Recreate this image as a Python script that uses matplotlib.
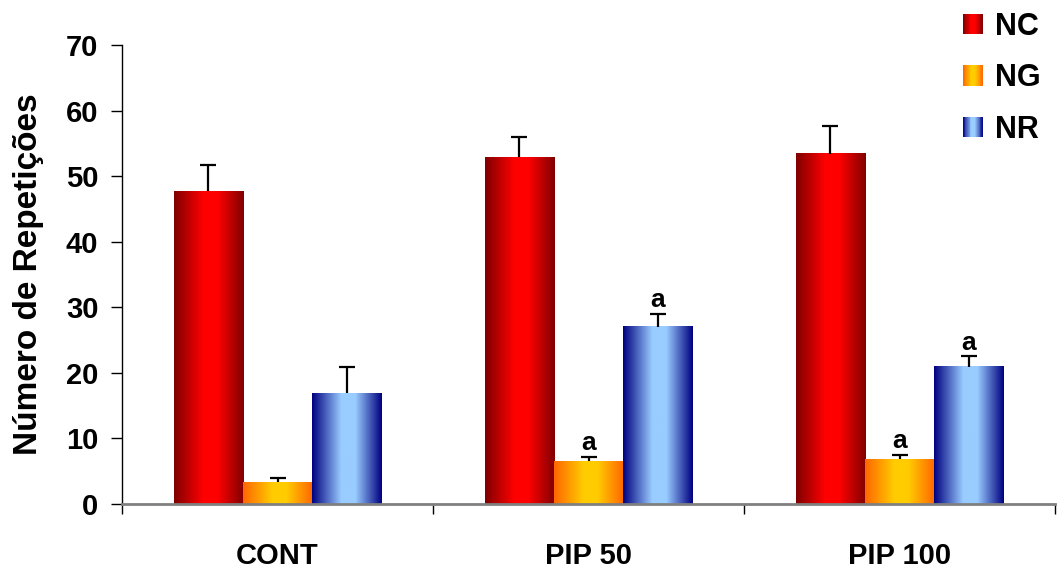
import matplotlib
matplotlib.use('Agg')
import matplotlib.pyplot as plt
import numpy as np
from matplotlib.colors import LinearSegmentedColormap
from matplotlib.legend_handler import HandlerBase
from matplotlib.patches import Rectangle

plt.rcParams['font.family'] = ['Liberation Sans', 'DejaVu Sans']
plt.rcParams['font.weight'] = 'bold'

groups = ['CONT', 'PIP 50', 'PIP 100']
series = ['NC', 'NG', 'NR']

nc_mean = [47.7, 52.9, 53.4]
nc_err = [4.0, 3.0, 4.2]
ng_mean = [3.3, 6.5, 6.8]
ng_err = [0.6, 0.7, 0.7]
nr_mean = [16.9, 27.0, 20.9]
nr_err = [4.0, 2.0, 1.6]

# significance letters over each bar ('' = none)
nc_sig = ['', '', '']
ng_sig = ['', 'a', 'a']
nr_sig = ['', 'a', 'a']

means = [nc_mean, ng_mean, nr_mean]
errs = [nc_err, ng_err, nr_err]
sigs = [nc_sig, ng_sig, nr_sig]

# edge colour / centre colour of the cylinder-like shading
shades = [('#800000', '#FF0000'),
          ('#FF6600', '#FFCC00'),
          ('#000080', '#99CCFF')]


def shade_cmap(edge, mid):
    return LinearSegmentedColormap.from_list(
        '', [(0.0, edge), (0.42, mid), (0.62, mid), (1.0, edge)])


cmaps = [shade_cmap(e, m) for e, m in shades]


class GradientHandler(HandlerBase):
    def __init__(self, cmap, steps=24):
        super().__init__()
        self.cmap = cmap
        self.steps = steps

    def create_artists(self, legend, orig_handle, xdescent, ydescent,
                       width, height, fontsize, trans):
        out = []
        for i in range(self.steps):
            r = Rectangle((-xdescent + width * i / self.steps, -ydescent),
                          width / self.steps * 1.05, height,
                          facecolor=self.cmap((i + 0.5) / self.steps),
                          edgecolor='none', transform=trans)
            out.append(r)
        return out


W, H = 1057, 572
fig = plt.figure(figsize=(W / 100, H / 100), dpi=100)
ax = fig.add_axes([122 / W, 1 - 504 / H, (1055 - 122) / W, 459 / H])

x = np.arange(len(groups))
width = 0.222
grad = np.linspace(0, 1, 256).reshape(1, -1)

for k in range(len(series)):
    pos = x + (k - 1) * width
    bars = ax.bar(pos, means[k], width, color='none', edgecolor='none')
    for rect in bars:
        bx, bw, bh = rect.get_x(), rect.get_width(), rect.get_height()
        ax.imshow(grad, cmap=cmaps[k], extent=[bx, bx + bw, 0, bh],
                  aspect='auto', interpolation='bilinear', zorder=2)
    _, caps, _ = ax.errorbar(pos, means[k], yerr=[np.zeros(len(groups)), errs[k]],
                             fmt='none', ecolor='black', elinewidth=1.6,
                             capsize=6, capthick=1.6, zorder=3)
    # only the upper half of each error bar is shown
    for cap in caps:
        if np.allclose(cap.get_ydata(), means[k]):
            cap.set_visible(False)
    for p, m, e, s in zip(pos, means[k], errs[k], sigs[k]):
        if s:
            ax.annotate(s, (p, m + e), xytext=(0, 1), textcoords='offset points',
                        ha='center', va='bottom', fontsize=19, fontweight='bold')

ax.set_xlim(-0.5, 2.5)
ax.set_ylim(0, 70)

ax.spines['top'].set_visible(False)
ax.spines['right'].set_visible(False)
ax.spines['left'].set_color('black')
ax.spines['left'].set_linewidth(1.0)
ax.spines['bottom'].set_color('#808080')
ax.spines['bottom'].set_linewidth(2.0)
ax.spines['bottom'].set_zorder(4)

ax.set_yticks(np.arange(0, 71, 10))
ax.tick_params(axis='y', direction='out', length=8, width=1, color='black',
               labelsize=21, pad=9)
ax.set_xticks(x)
ax.set_xticklabels(groups)
ax.set_xticks(np.arange(-0.5, 3, 1.0), minor=True)
ax.tick_params(axis='x', which='major', length=0, labelsize=21, pad=27)
ax.tick_params(axis='x', which='minor', direction='out', length=7.5, width=1,
               color='black')
for lab in ax.get_xticklabels() + ax.get_yticklabels():
    lab.set_fontweight('bold')

ax.set_ylabel('Número de Repetições', fontsize=24, fontweight='bold')
ax.yaxis.set_label_coords(-0.084, 0.5)

handles = [Rectangle((0, 0), 1, 1) for _ in series]
leg = fig.legend(handles, series,
                 handler_map={h: GradientHandler(c) for h, c in zip(handles, cmaps)},
                 loc='upper left', bbox_to_anchor=(963 / W, 1 - 12 / H),
                 frameon=False, borderpad=0, borderaxespad=0,
                 handlelength=0.65, handleheight=0.65, handletextpad=0.4,
                 labelspacing=0.7, prop={'size': 22, 'weight': 'bold'})

fig.savefig('out.png', dpi=100)
